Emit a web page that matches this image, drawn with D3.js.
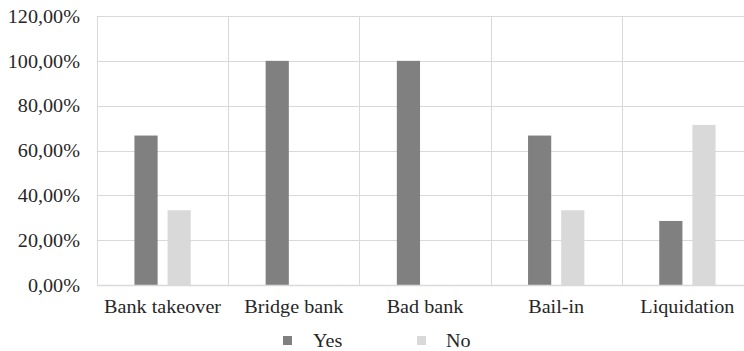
<!DOCTYPE html>
<html><head><meta charset="utf-8">
<script src="https://cdn.jsdelivr.net/npm/d3@7"></script>
<style>body{margin:0;background:#fff}svg{display:block}
svg text{font-family:'Liberation Serif','Times New Roman',Tinos,'DejaVu Serif',serif !important;fill:#262626}</style>
</head><body><svg id="c" width="744" height="351"></svg>
<script>
const categories = ["Bank takeover","Bridge bank","Bad bank","Bail-in","Liquidation"];
const seriesNames = ["Yes","No"];
const yesValues = [0.6667, 1.0, 1.0, 0.6667, 0.2857];
const noValues = [0.3333, 0, 0, 0.3333, 0.7143];
const yTicks = [0,0.2,0.4,0.6,0.8,1.0,1.2];
const colors = ["#808080","#d9d9d9"];

const svg = d3.select("#c");
const L = 97, R = 753, T = 16, B = 285;
const FS = 18, SX = 1.12;
const x = d3.scaleBand().domain(categories).range([L,R]);
const x1 = d3.scaleBand().domain(seriesNames).range([0,x.bandwidth()]).paddingInner(0.3).paddingOuter(1.13);
const y = d3.scaleLinear().domain([0,1.2]).range([B,T]);
const fmt = v => d3.format(".2f")(v*100).replace(".",",") + "%";

// horizontal gridlines
svg.append("g").selectAll("line").data(yTicks.slice(1)).join("line")
  .attr("x1",L).attr("x2",R).attr("y1",d=>Math.round(y(d))+0.5).attr("y2",d=>Math.round(y(d))+0.5)
  .attr("stroke","#d9d9d9").attr("stroke-width",1);
// vertical gridlines
const vb = categories.map(c=>x(c)).concat([R]);
svg.append("g").selectAll("line").data(vb).join("line")
  .attr("x1",d=>Math.round(d)+0.5).attr("x2",d=>Math.round(d)+0.5).attr("y1",T).attr("y2",B)
  .attr("stroke","#d9d9d9").attr("stroke-width",1);

// y labels
const yAxis = svg.append("g").attr("transform",`translate(${L-17},0)`)
  .call(d3.axisLeft(y).tickValues(yTicks).tickFormat(fmt).tickSize(0).tickPadding(0));
yAxis.select(".domain").remove();
yAxis.selectAll("text").attr("x",null).attr("font-size",FS).attr("dy","0.35em")
  .attr("transform",`scale(${SX},1)`);

// bars
const data = categories.map((c,i)=>({c, vals:[yesValues[i],noValues[i]]}));
const grp = svg.append("g").selectAll("g").data(data).join("g").attr("transform",d=>`translate(${x(d.c)},0)`);
grp.selectAll("rect").data(d=>d.vals.map((v,j)=>({s:seriesNames[j],v,j}))).join("rect")
  .attr("x",d=>x1(d.s)).attr("width",x1.bandwidth())
  .attr("y",d=>y(d.v)).attr("height",d=>B-y(d.v)).attr("fill",d=>colors[d.j]);

// baseline
svg.append("line").attr("x1",L).attr("x2",R).attr("y1",B+0.5).attr("y2",B+0.5).attr("stroke","#d9d9d9").attr("stroke-width",1.5);

// x labels
const xAxis = svg.append("g").attr("transform",`translate(0,${B})`)
  .call(d3.axisBottom(x).tickSize(0).tickPadding(0));
xAxis.select(".domain").remove();
xAxis.selectAll("text").attr("font-size",FS).attr("dy",null).attr("y",28)
  .attr("transform",`scale(${SX},1)`);

// legend
const legX = [283, 417], legTX = [313, 446];
const leg = svg.append("g").selectAll("g").data(seriesNames).join("g");
leg.append("rect").attr("x",(d,i)=>legX[i]).attr("y",336).attr("width",9).attr("height",9).attr("fill",(d,i)=>colors[i]);
leg.append("text").attr("transform",(d,i)=>`translate(${legTX[i]},346.5) scale(${SX},1)`).attr("font-size",FS).text(d=>d);
</script></body></html>
